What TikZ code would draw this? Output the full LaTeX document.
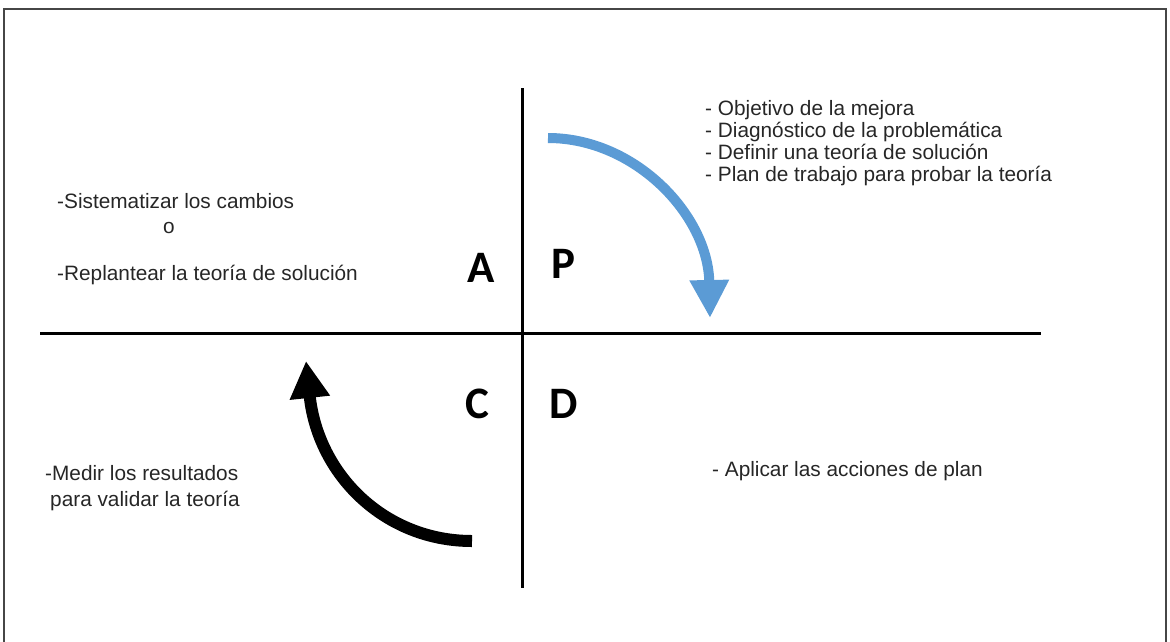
\documentclass[tikz,border=0pt]{standalone}
\usepackage{fontspec}
\setmainfont{Liberation Sans}
\newfontfamily\letterfont{Carlito}
\usetikzlibrary{arrows.meta}
\definecolor{pdcablue}{RGB}{91,155,213}
\definecolor{framegray}{RGB}{70,70,70}
\tikzset{
  frameline/.style={draw=framegray,line width=2pt},
  axisline/.style={draw=black,line width=3pt},
  txt/.style={anchor=base west,inner sep=0pt,font=\fontsize{20.8}{22}\selectfont,text=black!85},
  letter/.style={anchor=base,inner sep=0pt,font=\letterfont\bfseries\fontsize{45}{50}\selectfont},
  bluearrow/.style={draw=pdcablue,line width=10pt,-{Triangle[length=38pt,width=37pt]}},
  blackarrow/.style={draw=black,line width=12pt,-{Triangle[length=37pt,width=38pt]}}
}
\begin{document}
\begin{tikzpicture}[x=1pt,y=-1pt]
\useasboundingbox (0,0) rectangle (1170,641);
% frame
\draw[frameline] (4,645) -- (4,9) -- (1166,9) -- (1166,645);
% axes
\coordinate (hl) at (40,333);
\coordinate (hr) at (1041,333);
\coordinate (vt) at (522,88);
\coordinate (vb) at (522,588);
\draw[axisline] (hl) -- (hr);
\draw[axisline] (vt) -- (vb);
% quadrant letters
\node[letter] (A) at (481,282) {A};
\node[letter] (P) at (563,278) {P};
\node[letter] (C) at (477,418) {C};
\node[letter] (D) at (564,418) {D};
% arrows
\coordinate (bs) at (548,138);
\coordinate (bt) at (710,318);
\draw[bluearrow] (bs) .. controls (635,138) and (708,215) .. (bt);
\coordinate (ks) at (472,541);
\coordinate (kt) at (306,361);
\draw[blackarrow] (ks) .. controls (385,541) and (318,475) .. (kt);
% Plan text
\node[txt] (p1) at (705,115) {- Objetivo de la mejora};
\node[txt] (p2) at (705,137) {- Diagnóstico de la problemática};
\node[txt] (p3) at (705,159) {- Definir una teoría de solución};
\node[txt] (p4) at (705,181) {- Plan de trabajo para probar la teoría};
% Act text
\node[txt] (a1) at (57,208) {-Sistematizar los cambios};
\node[txt] (a2) at (163,233) {o};
\node[txt] (a3) at (57,280) {-Replantear la teoría de solución};
% Check text
\node[txt] (c1) at (45,480) {-Medir los resultados};
\node[txt] (c2) at (50,506) {para validar la teoría};
% Do text
\node[txt] (d1) at (712,476) {- Aplicar las acciones de plan};
\end{tikzpicture}
\end{document}
